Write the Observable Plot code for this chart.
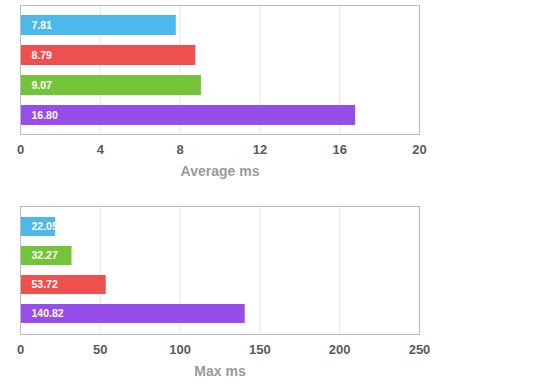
<!DOCTYPE html>
<html>
<head>
<meta charset="utf-8">
<script src="https://cdn.jsdelivr.net/npm/d3@7"></script>
<script src="https://cdn.jsdelivr.net/npm/@observablehq/plot@0.6"></script>
<style>
  html, body { margin: 0; padding: 0; background: #fff; }
  #charts svg { display: block; }
</style>
</head>
<body>
<div id="charts"></div>
<script>
// Series (colour identifies each series in both panels)
const seriesNames = ["Series A", "Series B", "Series C", "Series D"];
const seriesColors = ["#4db8ea", "#ee4f4f", "#74c43a", "#974dea"];

// Panel 1: Average ms (top-to-bottom order)
const avgOrder = ["Series A", "Series B", "Series C", "Series D"];
const avgValues = [7.81, 8.79, 9.07, 16.80];
const avgTicks = [0, 4, 8, 12, 16, 20];

// Panel 2: Max ms (top-to-bottom order)
const maxOrder = ["Series A", "Series C", "Series B", "Series D"];
const maxValues = [22.05, 32.27, 53.72, 140.82];
const maxTicks = [0, 50, 100, 150, 200, 250];

function panel(order, values, ticks, label, opts) {
  const data = order.map((name, i) => ({name, value: values[i]}));
  return Plot.plot({
    width: 560,
    height: opts.height,
    marginLeft: 20,
    marginRight: 141,
    marginTop: opts.marginTop,
    marginBottom: opts.marginBottom,
    style: {fontFamily: "'Liberation Sans', Arial, Helvetica, sans-serif", background: "#fff"},
    x: {domain: [ticks[0], ticks[ticks.length - 1]], ticks: ticks, label: null},
    y: {domain: order, paddingInner: opts.pi, paddingOuter: opts.po, axis: null},
    color: {domain: seriesNames, range: seriesColors},
    marks: [
      Plot.gridX(ticks, {stroke: "#e6e6e6", strokeOpacity: 1}),
      Plot.barX(data, {x: "value", y: "name", fill: "name"}),
      Plot.text(data, {
        y: "name", frameAnchor: "left", dx: 11,
        text: d => d.value.toFixed(2), fill: "#fff",
        fontSize: 10.5, fontWeight: "bold", textAnchor: "start"
      }),
      Plot.frame({stroke: "#bbbbbb", strokeWidth: 1}),
      Plot.axisX(ticks, {
        tickSize: 0, tickPadding: 10, fontSize: 13, fill: "#5a5a5a",
        fontWeight: "bold", label: null
      }),
      Plot.text([label], {
        frameAnchor: "bottom", dy: 41, fontSize: 14, fontWeight: "bold",
        fill: "#9a9a9a", text: d => d
      })
    ]
  });
}

const root = document.getElementById("charts");
root.appendChild(panel(avgOrder, avgValues, avgTicks, "Average ms",
  {height: 190, marginTop: 5, marginBottom: 56, pi: 0.35, po: 0.325}));
root.appendChild(panel(maxOrder, maxValues, maxTicks, "Max ms",
  {height: 195, marginTop: 16, marginBottom: 51, pi: 0.33, po: 0.3}));
</script>
</body>
</html>
